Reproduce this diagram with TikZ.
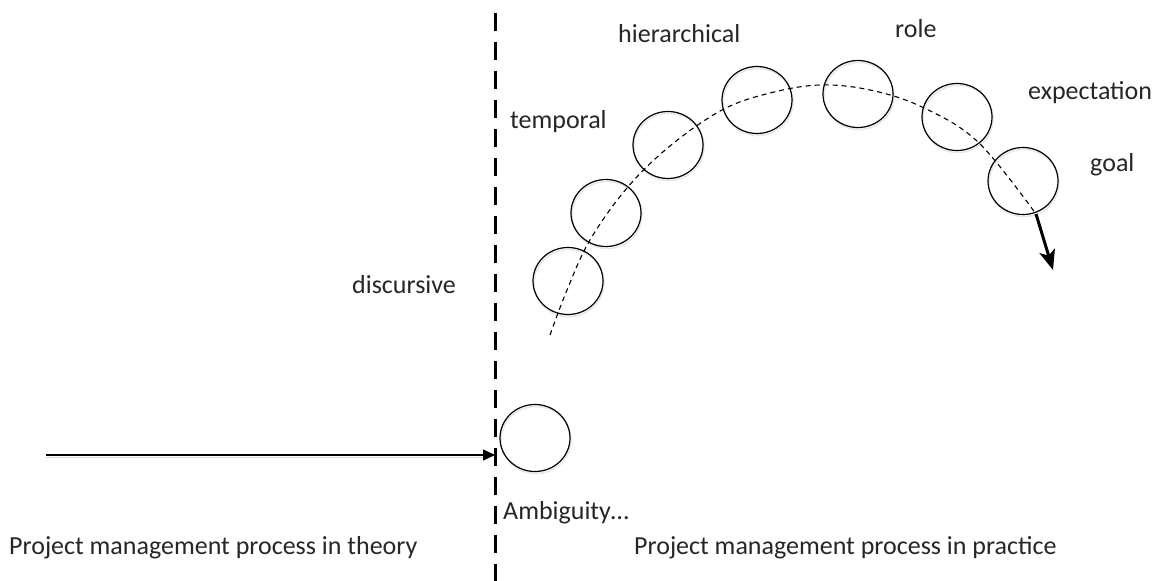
\documentclass[tikz,border=0pt]{standalone}
\usepackage{fontspec}
\setmainfont{Carlito}
\usetikzlibrary{shapes.geometric,arrows.meta,shadows}
\begin{document}
\begin{tikzpicture}[x=1pt,y=-1pt,
  bubble/.style={draw=black, line width=1.2pt, ellipse, minimum width=70pt, minimum height=67pt, inner sep=0pt,
    drop shadow={fill=none, draw=black!18, line width=1.6pt, shadow xshift=1pt, shadow yshift=-2pt}},
  lbl/.style={anchor=base west, inner sep=0pt, font=\fontsize{26}{30}\selectfont, text=black!85},
  divider/.style={line width=3.3pt, dash pattern=on 18pt off 11pt},
  track/.style={line width=1.1pt, dash pattern=on 5pt off 4pt}]
\useasboundingbox (0,0) rectangle (1160,581);
% divider
\coordinate (dtop) at (495.5,13);
\coordinate (dbot) at (495.5,581);
\draw[divider] (dtop) -- (dbot);
% circles
\node[bubble] (c1) at (568,281) {};
\node[bubble] (c2) at (606,213) {};
\node[bubble] (c3) at (668,145) {};
\node[bubble] (c4) at (757,100) {};
\node[bubble] (c5) at (858,94) {};
\node[bubble] (c6) at (957,117) {};
\node[bubble] (c7) at (1023,181) {};
\node[bubble] (amb) at (535,438) {};
% dashed track
\coordinate (tend) at (1036,214);
\coordinate (tip) at (1053,270);
\draw[track] plot[smooth, tension=0.6] coordinates {(550,335) (567,290) (590,240) (627,188) (670,146) (722,110) (770,93) (820,85) (870,90) (922,107) (978,142) (1036,214)};
\draw[line width=3pt, -{Stealth[length=20pt, width=16pt, inset=5pt]}] (tend) -- (tip);
% input arrow
\coordinate (astart) at (46,455);
\coordinate (aend) at (495,455);
\draw[black!15, line width=1.6pt] ([yshift=-2.5pt]astart) -- ([yshift=-2.5pt,xshift=-10pt]aend);
\draw[line width=1.2pt, -{Triangle[length=12pt, width=11pt]}] (astart) -- (aend);
% labels
\node[lbl] (tdisc) at (352,293) {discursive};
\node[lbl] (ttemp) at (510,128) {temporal};
\node[lbl] (thier) at (618,42) {hierarchical};
\node[lbl] (trole) at (895,37) {role};
\node[lbl] (texp) at (1028,99) {expectation};
\node[lbl] (tgoal) at (1090,171) {goal};
\node[lbl] (tamb) at (503,519) {Ambiguity…};
\node[lbl] (ttheory) at (9,554) {Project management process in theory};
\node[lbl] (tpract) at (634,554) {Project management process in practice};
\end{tikzpicture}
\end{document}
